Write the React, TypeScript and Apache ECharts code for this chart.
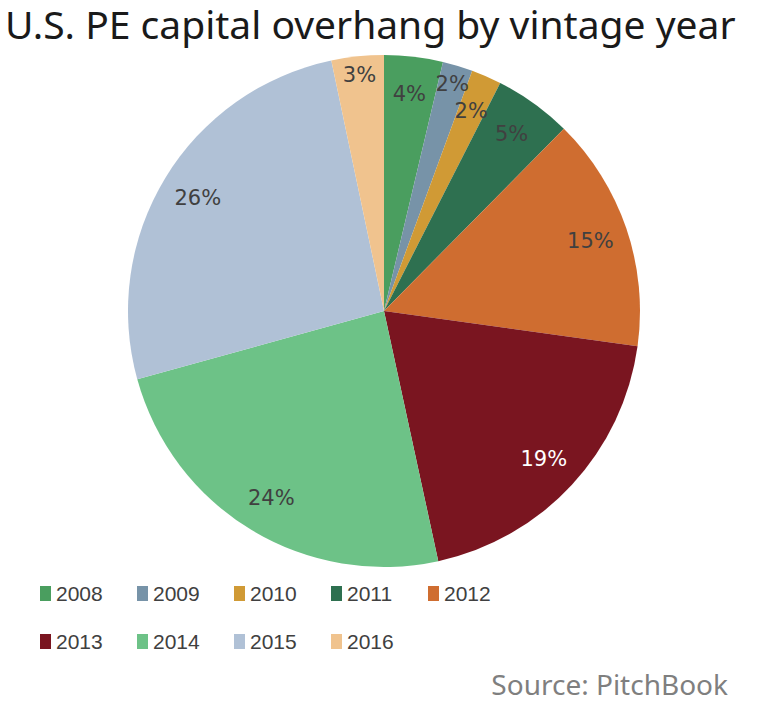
import { useEffect, useRef } from 'react'
import * as echarts from 'echarts'

const years = ['2008', '2009', '2010', '2011', '2012', '2013', '2014', '2015', '2016']
// share of overhang, %
const shares = [3.7, 1.9, 1.9, 4.9, 14.8, 19.4, 24.1, 26.0, 3.3]
// slices whose label sits nearer the rim
const outerLabelYears = ['2009', '2016']

const colors = ['#4a9e5f', '#7793a8', '#d09a35', '#2e7050', '#cf6d30', '#7a1520', '#6dc287', '#b0c1d6', '#f0c38e']
const labelColors = ['#404040', '#404040', '#404040', '#404040', '#404040', '#ffffff', '#404040', '#404040', '#404040']

const titleFont = '"Noto Sans", sans-serif'
const legendFont = '"Liberation Sans Narrow", "Liberation Sans", sans-serif'

export default function App() {
  const ref = useRef<HTMLDivElement | null>(null)

  useEffect(() => {
    document.body.style.margin = '0'
    if (!ref.current) return
    const chart = echarts.init(ref.current, null, { renderer: 'svg' })

    const center = [384, 311]

    const labelSeries = (radius: number[], showFor: (y: string) => boolean) => ({
      type: 'pie',
      silent: true,
      center,
      radius,
      startAngle: 90,
      clockwise: true,
      itemStyle: { color: 'transparent' },
      emphasis: { disabled: true },
      labelLine: { show: false },
      data: years.map((y, i) => ({
        name: y,
        value: shares[i],
        label: {
          show: showFor(y),
          position: 'inside',
          color: labelColors[i],
          fontFamily: '"DejaVu Sans", sans-serif',
          fontSize: 21,
          formatter: () => Math.round(shares[i]) + '%'
        }
      }))
    })

    // one legend per item so the columns keep a fixed pitch
    const legends = years.map((y, i) => ({
      orient: 'horizontal',
      left: 35 + (i % 5) * 97,
      top: i < 5 ? 578 : 626,
      itemWidth: 11,
      itemHeight: 15,
      icon: 'rect',
      selectedMode: false,
      textStyle: { fontFamily: legendFont, fontSize: 21, color: '#404040' },
      data: [{ name: y, itemStyle: { color: colors[i] } }]
    }))

    chart.setOption({
      animation: false,
      legend: legends,
      graphic: [
        {
          type: 'text',
          left: 5,
          top: 4,
          style: { text: 'U.S. PE capital overhang by vintage year', font: '39px ' + titleFont, fill: '#1a1a1a' }
        },
        {
          type: 'text',
          right: 30,
          top: 670,
          style: { text: 'Source: PitchBook', font: '28px ' + titleFont, fill: '#7f7f7f' }
        }
      ],
      series: [
        {
          type: 'pie',
          center,
          radius: [0, 256],
          startAngle: 90,
          clockwise: true,
          label: { show: false },
          labelLine: { show: false },
          emphasis: { disabled: true },
          data: years.map((y, i) => ({ name: y, value: shares[i], itemStyle: { color: colors[i] } }))
        },
        labelSeries([174, 256], (y) => !outerLabelYears.includes(y)),
        labelSeries([212, 256], (y) => outerLabelYears.includes(y))
      ]
    })

    return () => {
      chart.dispose()
    }
  }, [])

  return <div ref={ref} style={{ width: 758, height: 703 }} />
}
